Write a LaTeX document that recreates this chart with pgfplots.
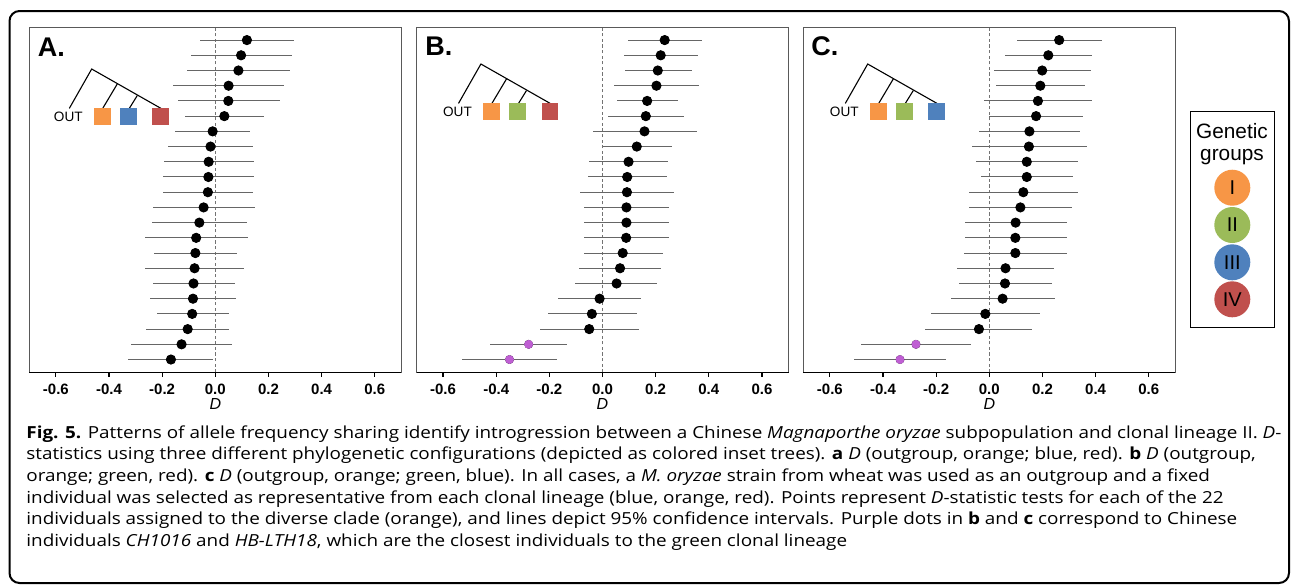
\documentclass[border=0pt]{standalone}
\usepackage{pgfplots}
\usepackage{pgfplotstable}
\usepackage{graphicx}
\usepackage{fontspec}
\pgfplotsset{compat=1.18}
\setmainfont{Liberation Sans}
\newfontfamily\capfont{Open Sans}
\definecolor{gOrange}{HTML}{F79646}
\definecolor{gGreen}{HTML}{9BBB59}
\definecolor{gBlue}{HTML}{4F81BD}
\definecolor{gRed}{HTML}{C0504D}
\definecolor{dotPurple}{HTML}{BF5FD3}

% y = 22 is the top row, y = 1 the bottom row
\pgfplotstableread{
y d lo hi
22 0.119 -0.058 0.298
21 0.097 -0.092 0.288
20 0.087 -0.107 0.281
19 0.050 -0.158 0.259
18 0.049 -0.142 0.242
17 0.034 -0.114 0.182
16 -0.010 -0.150 0.131
15 -0.018 -0.177 0.143
14 -0.025 -0.192 0.145
13 -0.026 -0.196 0.145
12 -0.028 -0.196 0.141
11 -0.044 -0.234 0.148
10 -0.060 -0.238 0.118
9 -0.072 -0.265 0.122
8 -0.075 -0.231 0.081
7 -0.078 -0.264 0.109
6 -0.082 -0.236 0.074
5 -0.084 -0.245 0.077
4 -0.087 -0.221 0.050
3 -0.104 -0.262 0.053
2 -0.127 -0.316 0.062
1 -0.167 -0.327 -0.010
}\tabA

\pgfplotstableread{
y d lo hi
22 0.234 0.095 0.375
21 0.219 0.082 0.359
20 0.208 0.083 0.335
19 0.203 0.044 0.365
18 0.168 0.053 0.285
17 0.163 0.020 0.307
16 0.158 -0.035 0.354
15 0.129 0.000 0.263
14 0.098 -0.049 0.247
13 0.093 -0.054 0.242
12 0.092 -0.084 0.268
11 0.090 -0.068 0.250
10 0.090 -0.068 0.250
9 0.089 -0.070 0.250
8 0.076 -0.069 0.226
7 0.066 -0.087 0.219
6 0.053 -0.102 0.206
5 -0.011 -0.167 0.144
4 -0.040 -0.206 0.128
3 -0.050 -0.237 0.137
2 -0.278 -0.423 -0.132
1 -0.350 -0.527 -0.172
}\tabB

\pgfplotstableread{
y d lo hi
22 0.263 0.103 0.425
21 0.222 0.059 0.386
20 0.199 0.018 0.383
19 0.192 0.026 0.360
18 0.183 -0.019 0.386
17 0.176 0.000 0.354
16 0.151 -0.038 0.341
15 0.149 -0.066 0.368
14 0.141 -0.049 0.332
13 0.141 -0.031 0.314
12 0.128 -0.078 0.335
11 0.117 -0.077 0.311
10 0.099 -0.090 0.292
9 0.098 -0.092 0.291
8 0.098 -0.094 0.291
7 0.061 -0.120 0.245
6 0.059 -0.114 0.235
5 0.050 -0.144 0.248
4 -0.015 -0.220 0.192
3 -0.039 -0.241 0.162
2 -0.276 -0.483 -0.069
1 -0.336 -0.509 -0.163
}\tabC

\pgfplotsset{
  dpanel/.style={
    anchor=north west, scale only axis,
    width=186pt, height=172.5pt,
    xmin=-0.7, xmax=0.7, ymin=0.16, ymax=22.84,
    ytick=\empty,
    xtick={-0.6,-0.4,-0.2,0,0.2,0.4,0.6},
    xticklabels={-0.6,-0.4,-0.2,0.0,0.2,0.4,0.6},
    xtick pos=lower, tick align=outside,
    major tick length=2.2pt,
    tick style={black, line width=0.6pt},
    xticklabel style={font=\fontsize{7.5}{8}\selectfont\bfseries},
    axis line style={draw=black!65, line width=0.5pt},
    xlabel={\textit{D}},
    every axis x label/.style={at={(axis description cs:0.5,0)}, anchor=center, yshift=-15.9pt, font=\fontsize{8}{9}\selectfont},
    clip=false,
  },
  ebars/.style={only marks, mark=none,
    error bars/.cd, x dir=both, x explicit, error mark=none,
    error bar style={draw=black!60, line width=0.5pt}},
}

\newcommand{\zeroline}{\draw[dash pattern=on 1.6pt off 1.2pt, black!55, line width=0.45pt] (axis cs:0,0.16) -- (axis cs:0,22.84);}
\newcommand{\bottomline}{\draw[black, line width=0.7pt] (rel axis cs:0,0) -- (rel axis cs:1,0);}

% inset tree, px units, shifted by #1,#2
\newcommand{\tree}[5]{%
\begin{scope}[x=0.5pt,y=-0.5pt,shift={(#1,#2)}]
  \draw[line width=0.55pt] (69.3,108.4) -- (91.7,69) -- (161,108.4);
  \draw[line width=0.55pt] (117.3,83.9) -- (102.7,108.4);
  \draw[line width=0.55pt] (137.3,95.5) -- (129.3,108.4);
  \node[inner sep=0, font=\fontsize{6.8}{7}\selectfont] at (68.3,116.7) {OUT};
  \fill[#3] (94,108.4) rectangle ++(16.7,16.7);
  \fill[#4] (120,108.4) rectangle ++(16.7,16.7);
  \fill[#5] (152.4,108.4) rectangle ++(16.7,16.7);
\end{scope}}

\newcommand{\capsize}{\fontsize{8.3}{10}\selectfont}
\newlength\capw

\begin{document}
\settowidth\capw{\capfont\capsize\textbf{Fig. 5.} Patterns of allele frequency sharing identify introgression between a Chinese \textit{Magnaporthe oryzae} subpopulation and clonal lineage II. \textit{D}-}%
\pgfmathsetmacro\capscale{627.5/\capw}%
\begin{tikzpicture}
\path[use as bounding box] (0,0) rectangle (647.5pt,-293pt);

% panel A
\begin{axis}[dpanel, at={(14.65pt,-13.65pt)}]
\zeroline
\addplot[ebars] table[x=d, y=y, x error plus expr=\thisrow{hi}-\thisrow{d}, x error minus expr=\thisrow{d}-\thisrow{lo}] {\tabA};
\addplot[only marks, mark=*, mark size=2.33pt, black] table[x=d, y=y] {\tabA};
\bottomline
\end{axis}

% panel B
\begin{axis}[dpanel, at={(208.25pt,-13.65pt)}]
\zeroline
\addplot[ebars] table[x=d, y=y, x error plus expr=\thisrow{hi}-\thisrow{d}, x error minus expr=\thisrow{d}-\thisrow{lo}] {\tabB};
\addplot[only marks, mark=*, mark size=2.33pt, black, skip coords between index={20}{22}] table[x=d, y=y] {\tabB};
\addplot[only marks, mark=*, mark size=2.0pt, dotPurple, skip coords between index={0}{20}] table[x=d, y=y] {\tabB};
\bottomline
\end{axis}

% panel C
\begin{axis}[dpanel, at={(401.65pt,-13.65pt)}]
\zeroline
\addplot[ebars] table[x=d, y=y, x error plus expr=\thisrow{hi}-\thisrow{d}, x error minus expr=\thisrow{d}-\thisrow{lo}] {\tabC};
\addplot[only marks, mark=*, mark size=2.33pt, black, skip coords between index={20}{22}] table[x=d, y=y] {\tabC};
\addplot[only marks, mark=*, mark size=2.0pt, dotPurple, skip coords between index={0}{20}] table[x=d, y=y] {\tabC};
\bottomline
\end{axis}

\tree{0}{0}{gOrange}{gBlue}{gRed}
\tree{389.2}{-5}{gOrange}{gGreen}{gRed}
\tree{776}{-5}{gOrange}{gGreen}{gBlue}

\begin{scope}[x=0.5pt,y=-0.5pt]
  % panel letters
  \node[anchor=base west, inner sep=0, font=\fontsize{13.5}{14}\selectfont\bfseries] at (37.5,56) {A.};
  \node[anchor=base west, inner sep=0, font=\fontsize{13.5}{14}\selectfont\bfseries] at (425,55) {B.};
  \node[anchor=base west, inner sep=0, font=\fontsize{13.5}{14}\selectfont\bfseries] at (811,55.7) {C.};
  % legend
  \draw[line width=0.5pt] (1190,111.7) rectangle (1274,327.7);
  \node[font=\fontsize{10.4}{11}\selectfont] at (1232,131) {Genetic};
  \node[font=\fontsize{10.4}{11}\selectfont] at (1232,157) {groups};
  \fill[gOrange] (1232.3,187.7) circle (18);
  \fill[gGreen] (1232.3,225) circle (18);
  \fill[gBlue] (1232.3,262.3) circle (18);
  \fill[gRed] (1232.3,299.3) circle (18);
  \node[font=\fontsize{10}{11}\selectfont] at (1232.3,187.7) {I};
  \node[font=\fontsize{10}{11}\selectfont] at (1232.3,225) {II};
  \node[font=\fontsize{10}{11}\selectfont] at (1232.3,262.3) {III};
  \node[font=\fontsize{10}{11}\selectfont] at (1232.3,299.3) {IV};
  % frame
  \draw[line width=1pt, rounded corners=5pt] (9.5,11) rectangle (1289,583);
  % caption
  \node[anchor=base west, inner sep=0] at (26,438.3) {\scalebox{\capscale}[1]{\capfont\capsize\textbf{Fig. 5.} Patterns of allele frequency sharing identify introgression between a Chinese \textit{Magnaporthe oryzae} subpopulation and clonal lineage II. \textit{D}-}};
  \node[anchor=base west, inner sep=0] at (26,459.9) {\scalebox{\capscale}[1]{\capfont\capsize statistics using three different phylogenetic configurations (depicted as colored inset trees). \textbf{a} \textit{D} (outgroup, orange; blue, red). \textbf{b} \textit{D} (outgroup,}};
  \node[anchor=base west, inner sep=0] at (26,481.4) {\scalebox{\capscale}[1]{\capfont\capsize orange; green, red). \textbf{c} \textit{D} (outgroup, orange; green, blue). In all cases, a \textit{M. oryzae} strain from wheat was used as an outgroup and a fixed}};
  \node[anchor=base west, inner sep=0] at (26,503) {\scalebox{\capscale}[1]{\capfont\capsize individual was selected as representative from each clonal lineage (blue, orange, red). Points represent \textit{D}-statistic tests for each of the 22}};
  \node[anchor=base west, inner sep=0] at (26,524.5) {\scalebox{\capscale}[1]{\capfont\capsize individuals assigned to the diverse clade (orange), and lines depict 95\% confidence intervals. Purple dots in \textbf{b} and \textbf{c} correspond to Chinese}};
  \node[anchor=base west, inner sep=0] at (26,546.1) {\scalebox{\capscale}[1]{\capfont\capsize individuals \textit{CH1016} and \textit{HB-LTH18}, which are the closest individuals to the green clonal lineage}};
\end{scope}
\end{tikzpicture}
\end{document}
